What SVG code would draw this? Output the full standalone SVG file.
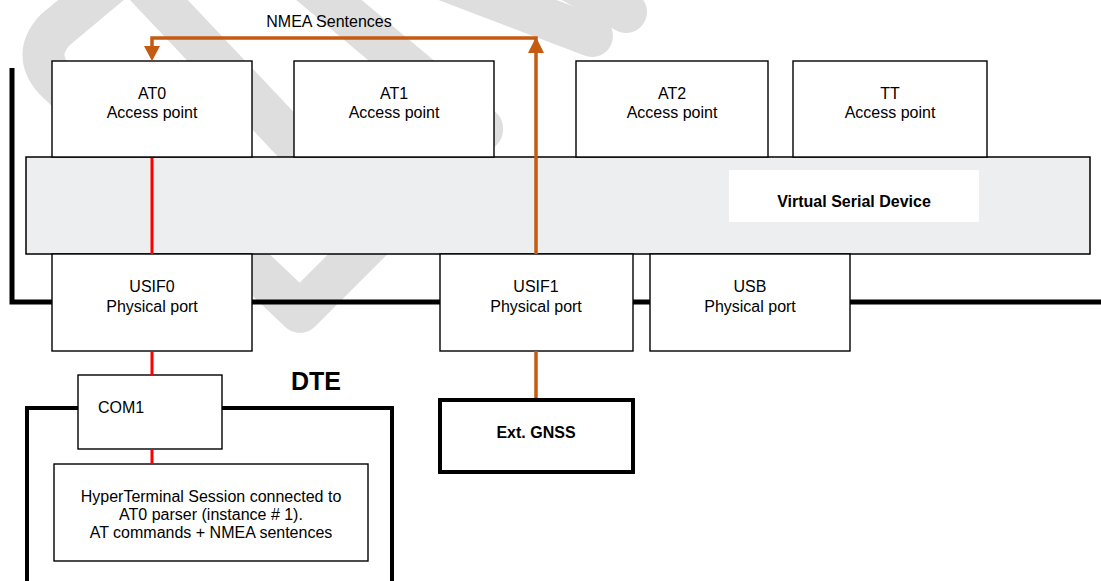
<svg xmlns="http://www.w3.org/2000/svg" width="1101" height="581" viewBox="0 0 1101 581">
<defs>
<style>
.wm{fill:none;stroke:#DEDEDE;stroke-width:42;stroke-linecap:round;stroke-linejoin:round}
.box{fill:#FFFFFF;stroke:#000000;stroke-width:1.4}
.thick{fill:#FFFFFF;stroke:#000000;stroke-width:4}
.t{font-family:"Liberation Sans",Arial,sans-serif;font-size:16px;fill:#000000;text-anchor:middle}
.b{font-weight:bold}
.red{fill:none;stroke:#FF0000;stroke-width:3}
.org{fill:none;stroke:#C55A11;stroke-width:3.5}
.orgh{fill:#C55A11}
</style>
</defs>
<rect width="1101" height="581" fill="#FFFFFF"/>
<g id="watermark">
<path class="wm" d="M 115 -20 L 55 30 Q 32 55 55 80 L 300 312 L 482 130"/>
<path class="wm" d="M 140 -20 L 310 160"/>
<path class="wm" d="M 305 -20 L 482 128"/>
<path class="wm" d="M 445 -20 L 592 36"/>
<path class="wm" d="M 560 -25 L 626 12"/>
</g>
<g id="bus">
<polyline points="12,68 12,302 1101,302" fill="none" stroke="#000000" stroke-width="5"/>
</g>
<g id="vsd">
<rect x="26" y="157" width="1064" height="97" fill="#EDEEF0" stroke="#000000" stroke-width="1.5"/>
<rect x="729" y="170" width="250" height="52" fill="#FFFFFF"/>
<text class="t b" x="854" y="207">Virtual Serial Device</text>
</g>
<g id="at0">
<rect class="box" x="52" y="61" width="200" height="96"/>
<text class="t" x="152" y="99">AT0</text>
<text class="t" x="152" y="118">Access point</text>
</g>
<g id="at1">
<rect class="box" x="294" y="61" width="200" height="96"/>
<text class="t" x="394" y="99">AT1</text>
<text class="t" x="394" y="118">Access point</text>
</g>
<g id="at2">
<rect class="box" x="576" y="61" width="192" height="96"/>
<text class="t" x="672" y="99">AT2</text>
<text class="t" x="672" y="118">Access point</text>
</g>
<g id="tt">
<rect class="box" x="793" y="61" width="194" height="96"/>
<text class="t" x="890" y="99">TT</text>
<text class="t" x="890" y="118">Access point</text>
</g>
<g id="usif0">
<rect class="box" x="52" y="254" width="200" height="97"/>
<text class="t" x="152" y="292">USIF0</text>
<text class="t" x="152" y="312">Physical port</text>
</g>
<g id="usif1">
<rect class="box" x="440" y="254" width="193" height="97"/>
<text class="t" x="536" y="292">USIF1</text>
<text class="t" x="536" y="312">Physical port</text>
</g>
<g id="usb">
<rect class="box" x="650" y="254" width="200" height="97"/>
<text class="t" x="750" y="292">USB</text>
<text class="t" x="750" y="312">Physical port</text>
</g>
<g id="dte">
<path d="M 27 583 L 27 408 L 392 408 L 392 583" fill="none" stroke="#000000" stroke-width="4"/>
<text class="t b" x="316" y="390" style="font-size:25px">DTE</text>
</g>
<g id="com1">
<rect class="box" x="78" y="375" width="144" height="74"/>
<text class="t" x="98" y="413" style="text-anchor:start">COM1</text>
</g>
<g id="hyperterminal">
<rect class="box" x="54" y="464" width="314" height="97"/>
<text class="t" x="211" y="502">HyperTerminal Session connected to</text>
<text class="t" x="211" y="520">AT0 parser (instance # 1).</text>
<text class="t" x="211" y="538">AT commands + NMEA sentences</text>
</g>
<g id="gnss">
<rect class="thick" x="440" y="400" width="193" height="72"/>
<text class="t b" x="536" y="438">Ext. GNSS</text>
</g>
<g id="connectors">
<line class="red" x1="152" y1="158" x2="152" y2="254"/>
<line class="red" x1="152" y1="351" x2="152" y2="375"/>
<line class="red" x1="152" y1="449" x2="152" y2="464"/>
<line class="org" x1="536" y1="398" x2="536" y2="351"/>
<polyline class="org" points="536,254 536,38 152,38 152,50"/>
<polygon class="orgh" points="536,37 528,53 544,53"/>
<polygon class="orgh" points="152,61 144,46 160,46"/>
<text class="t" x="329" y="27">NMEA Sentences</text>
</g>
</svg>
